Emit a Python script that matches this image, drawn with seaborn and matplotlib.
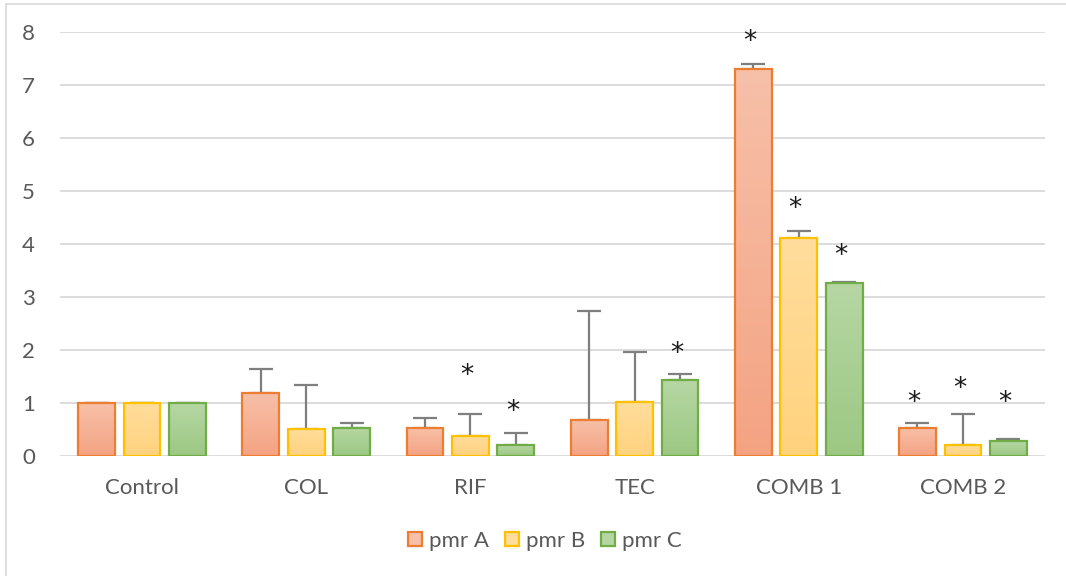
import numpy as np
import pandas as pd
import matplotlib
matplotlib.use("Agg")
import matplotlib.pyplot as plt
from matplotlib.patches import Patch
from matplotlib.lines import Line2D
from matplotlib.colors import to_rgb
import seaborn as sns

# ---- data ----
categories = ["Control", "COL", "RIF", "TEC", "COMB 1", "COMB 2"]
series = ["pmr A", "pmr B", "pmr C"]
pmr_a = [1.00, 1.19, 0.53, 0.68, 7.31, 0.53]
pmr_b = [1.00, 0.51, 0.38, 1.01, 4.11, 0.20]
pmr_c = [1.00, 0.53, 0.21, 1.43, 3.27, 0.28]
err_a = [0.005, 0.45, 0.19, 2.06, 0.09, 0.09]
err_b = [0.005, 0.83, 0.42, 0.96, 0.14, 0.59]
err_c = [0.005, 0.09, 0.23, 0.11, 0.01, 0.05]
# heights of the significance asterisks (None = not significant)
star_a = [None, None, None, None, 7.93, 1.12]
star_b = [None, None, 1.62, None, 4.77, 1.38]
star_c = [None, None, 0.95, 2.04, 3.89, 1.12]
y_ticks = [0, 1, 2, 3, 4, 5, 6, 7, 8]

values = [pmr_a, pmr_b, pmr_c]
errors = [err_a, err_b, err_c]
stars = [star_a, star_b, star_c]

df = pd.DataFrame({
    "category": np.repeat([categories], 3, axis=0).ravel(),
    "series": np.repeat(series, len(categories)),
    "value": np.concatenate(values),
})

edge_colors = ["#ED7D31", "#FFC000", "#70AD47"]
grad_top = ["#F7C0A9", "#FFDD9C", "#B6D7A4"]
grad_bottom = ["#F4A382", "#FFD27E", "#9CC883"]
text_gray = "#595959"
font_size = 16

sns.set_theme(style="white")
plt.rcParams["font.family"] = ["Lato", "DejaVu Sans"]

fig = plt.figure(figsize=(10.66, 5.76), dpi=100)
ax = fig.add_axes([0.0563, 0.2083, 0.9240, 0.7361])

sns.barplot(data=df, x="category", y="value", hue="series",
            palette=grad_bottom, width=0.83, gap=0.19, errorbar=None,
            ax=ax, legend=False, zorder=2)

ax.set_xlim(-0.5, len(categories) - 0.5)
ax.set_ylim(0, 8)

bar_groups = list(ax.containers)

# vertical gradient fill for each bar, with the bar outline on top
for i, cont in enumerate(bar_groups):
    c0 = np.array(to_rgb(grad_top[i]))
    c1 = np.array(to_rgb(grad_bottom[i]))
    t = np.linspace(0, 1, 256)[:, None]
    img = (c0[None, :] * (1 - t) + c1[None, :] * t)[:, None, :]
    for j, bar in enumerate(cont):
        x0, y0 = bar.get_x(), bar.get_y()
        w, h = bar.get_width(), bar.get_height()
        im = ax.imshow(img, extent=(x0, x0 + w, y0, y0 + h), aspect="auto",
                       origin="upper", interpolation="bilinear", zorder=1.9)
        im.set_clip_path(bar)
        bar.set_facecolor("none")
        bar.set_edgecolor(edge_colors[i])
        bar.set_linewidth(1.6)
        bar.set_zorder(2.1)
        xc = x0 + w / 2
        ax.errorbar(xc, values[i][j], yerr=[[0], [errors[i][j]]], fmt="none",
                    ecolor="#7F7F7F", elinewidth=1.6, capsize=8.5,
                    capthick=1.6, zorder=1.8)
        if stars[i][j] is not None:
            ax.annotate("*", xy=(xc, stars[i][j]), xytext=(-2.5, -4.5),
                        textcoords="offset points", ha="center", va="center",
                        fontsize=19, color="#1A1A1A", family="DejaVu Sans",
                        zorder=3)

ax.set_xlim(-0.5, len(categories) - 0.5)
ax.set_ylim(0, 8)
ax.set_yticks(y_ticks)
ax.yaxis.grid(True, color="#D9D9D9", linewidth=1.3, zorder=0)
ax.set_axisbelow(True)
for s in ax.spines.values():
    s.set_visible(False)
ax.set_xlabel("")
ax.set_ylabel("")
ax.tick_params(axis="y", length=0, pad=18, labelsize=font_size,
               labelcolor=text_gray)
ax.tick_params(axis="x", length=0, pad=16, labelsize=font_size,
               labelcolor=text_gray)

handles = [Patch(facecolor=grad_top[i], edgecolor=edge_colors[i],
                 linewidth=1.6, label=series[i]) for i in range(3)]
leg = fig.legend(handles=handles, loc="center", bbox_to_anchor=(0.511, 0.061),
                 ncol=3, frameon=False, fontsize=font_size, handlelength=0.65,
                 handleheight=0.65, handletextpad=0.3, columnspacing=0.7)
for t in leg.get_texts():
    t.set_color(text_gray)

# outer chart-area border (top and left edges)
frame_kw = dict(color="#D9D9D9", linewidth=1.2, transform=fig.transFigure)
fig.add_artist(Line2D([6 / 1066, 6 / 1066], [0, 1 - 4 / 576], **frame_kw))
fig.add_artist(Line2D([6 / 1066, 1], [1 - 4 / 576, 1 - 4 / 576], **frame_kw))

fig.savefig("out.png", dpi=100, facecolor="white")
